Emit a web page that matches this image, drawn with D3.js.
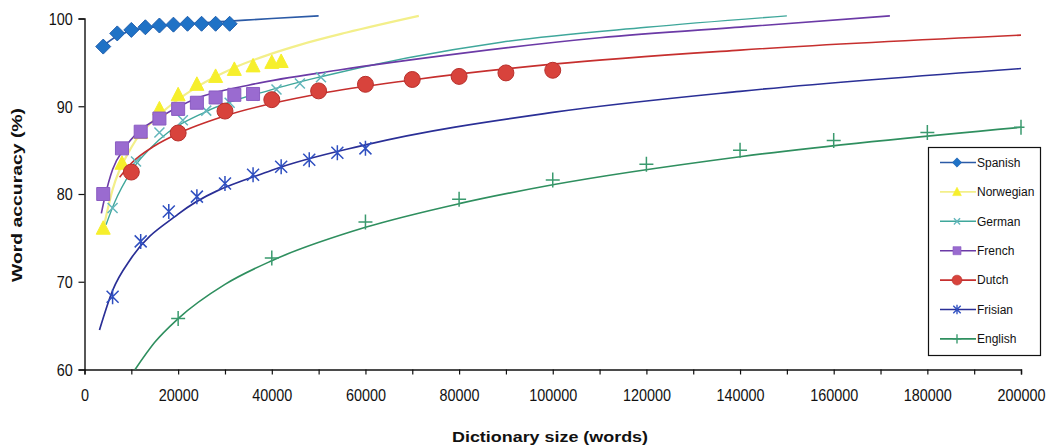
<!DOCTYPE html>
<html>
<head>
<meta charset="utf-8">
<script src="https://cdn.jsdelivr.net/npm/d3@7"></script>
<style>
  body { margin: 0; background: #fff; }
  svg { font-family: "Liberation Sans", Arial, sans-serif; }
</style>
</head>
<body>
<svg id="chart" width="1053" height="446"></svg>
<script>
// Values
const seriesNames = ['Spanish', 'Norwegian', 'German', 'French', 'Dutch', 'Frisian', 'English'];

const spanishSize = [4000, 7000, 10000, 13000, 16000, 19000, 22000, 25000, 28000, 31000];
const spanishAcc  = [96.8, 98.3, 98.7, 99.0, 99.2, 99.3, 99.4, 99.4, 99.4, 99.4];
const spanishTrend = [[4000, 96.9], [7000, 98.0], [10000, 98.6], [16000, 99.1], [22000, 99.4], [31000, 99.7], [40000, 100.0], [50000, 100.3]];

const norwegianSize = [4000, 8000, 12000, 16000, 20000, 24000, 28000, 32000, 36000, 40000, 42000];
const norwegianAcc  = [76.1, 83.5, 87.0, 89.7, 91.3, 92.5, 93.4, 94.2, 94.6, 95.0, 95.1];
const norwegianTrend = [[3800, 75.5], [6000, 80.5], [10000, 85.3], [16000, 89.0], [24000, 92.2], [32000, 94.4], [40000, 96.0], [46000, 97.0], [56000, 98.4], [71400, 100.3]];

const germanSize = [6000, 11000, 16000, 21000, 26000, 31000, 36000, 41000, 46000, 50500];
const germanAcc  = [78.4, 83.7, 87.0, 88.4, 89.5, 90.4, 91.2, 91.9, 92.6, 93.3];
const germanTrend = [[4600, 76.5], [6400, 79.0], [10000, 82.6], [16000, 86.2], [26000, 89.4], [40000, 91.9], [50000, 93.3], [89000, 97.3], [120000, 99.0], [150000, 100.3]];

const frenchSize = [4000, 8000, 12000, 16000, 20000, 24000, 28000, 32000, 36000];
const frenchAcc  = [80.0, 85.2, 87.1, 88.6, 89.7, 90.4, 91.0, 91.3, 91.4];
const frenchTrend = [[3600, 77.8], [4500, 80.0], [6000, 82.8], [8500, 85.2], [12000, 87.3], [16000, 88.7], [24000, 90.9], [35000, 92.4], [54000, 94.1], [80000, 96.0], [110000, 97.8], [142000, 99.1], [172000, 100.3]];

const dutchSize = [10000, 20000, 30000, 40000, 50000, 60000, 70000, 80000, 90000, 100000];
const dutchAcc  = [82.5, 86.95, 89.45, 90.75, 91.75, 92.5, 93.05, 93.4, 93.8, 94.1];
const dutchTrend = [[7500, 81.9], [10000, 83.5], [15000, 85.5], [20000, 86.9], [30000, 88.9], [50000, 91.4], [70000, 93.0], [100000, 94.8], [140000, 96.4], [200000, 98.1]];

const frisianSize = [6000, 12000, 18000, 24000, 30000, 36000, 42000, 48000, 54000, 60000];
const frisianAcc  = [68.3, 74.6, 78.0, 79.7, 81.2, 82.2, 83.1, 83.9, 84.7, 85.2];
const frisianTrend = [[3200, 64.5], [6000, 69.0], [10000, 72.7], [20000, 77.7], [40000, 82.7], [60000, 85.6], [100000, 89.3], [140000, 91.7], [200000, 94.3]];

const englishSize = [20000, 40000, 60000, 80000, 100000, 120000, 140000, 160000, 180000, 200000];
const englishAcc  = [65.8, 72.7, 76.8, 79.4, 81.6, 83.4, 85.0, 86.1, 87.0, 87.6];
const englishTrend = [[10800, 60.0], [15000, 63.1], [20000, 65.8], [30000, 69.7], [40000, 72.4], [60000, 76.2], [80000, 78.9], [100000, 81.05], [140000, 84.25], [200000, 87.6]];

const xTicks = d3.range(0, 200001, 10000);
const xLabels = d3.range(0, 200001, 20000);
const yTicks = [60, 70, 80, 90, 100];

// look of each series
const style = {
  Spanish:   { marker: 'diamond',  fill: '#1f72c6', stroke: '#1f5fae', line: '#2b5aa6', lw: 1.6 },
  Norwegian: { marker: 'triangle', fill: '#f6ef2c', stroke: '#f6ef2c', line: '#f3ef8a', lw: 2.2 },
  German:    { marker: 'cross',    fill: 'none',    stroke: '#63b6bb', line: '#3fa79b', lw: 1.4 },
  French:    { marker: 'square',   fill: '#9a6bd0', stroke: '#8a5cc2', line: '#6b3aa6', lw: 1.6 },
  Dutch:     { marker: 'circle',   fill: '#d8433c', stroke: '#b8302c', line: '#c62f2e', lw: 1.6 },
  Frisian:   { marker: 'star',     fill: 'none',    stroke: '#2f4fc0', line: '#2a2f96', lw: 1.7 },
  English:   { marker: 'plus',     fill: 'none',    stroke: '#3a9a6e', line: '#2f8f5f', lw: 1.6 }
};

const series = [
  { name: 'Spanish', size: spanishSize, acc: spanishAcc, trend: spanishTrend },
  { name: 'Norwegian', size: norwegianSize, acc: norwegianAcc, trend: norwegianTrend },
  { name: 'German', size: germanSize, acc: germanAcc, trend: germanTrend },
  { name: 'French', size: frenchSize, acc: frenchAcc, trend: frenchTrend },
  { name: 'Dutch', size: dutchSize, acc: dutchAcc, trend: dutchTrend },
  { name: 'Frisian', size: frisianSize, acc: frisianAcc, trend: frisianTrend },
  { name: 'English', size: englishSize, acc: englishAcc, trend: englishTrend }
];

const svg = d3.select('#chart');
const x = d3.scaleLinear().domain([0, 200000]).range([84.5, 1021]);
const y = d3.scaleLinear().domain([60, 100]).range([369.5, 18.5]);

svg.append('defs').append('clipPath').attr('id', 'plot')
  .append('rect').attr('x', 84.5).attr('y', 14).attr('width', 940).attr('height', 356);

// axes
const gx = svg.append('g').attr('transform', 'translate(0,369.5)')
  .call(d3.axisBottom(x).tickValues(xTicks).tickSize(5).tickPadding(15)
    .tickFormat(d => xLabels.includes(d) ? d : ''));
const gy = svg.append('g').attr('transform', 'translate(84.5,0)')
  .call(d3.axisLeft(y).tickValues(yTicks).tickSize(6).tickPadding(7));
[gx, gy].forEach(g => {
  g.select('.domain').attr('stroke', '#111').attr('stroke-width', 1.4);
  g.selectAll('.tick line').attr('stroke', '#111').attr('stroke-width', 1.2);
  g.selectAll('.tick text').attr('font-size', 16).attr('fill', '#111')
    .attr('font-family', '"Liberation Sans", Arial, sans-serif');
});
gx.selectAll('.tick text').attr('transform', 'scale(0.9,1)');
gy.selectAll('.tick text').attr('transform', 'scale(0.9,1)').attr('dy', '0.36em');

svg.append('text').attr('x', 550).attr('y', 442).attr('text-anchor', 'middle')
  .attr('font-size', 15).attr('font-weight', 'bold').attr('fill', '#111')
  .attr('textLength', 196).attr('lengthAdjust', 'spacingAndGlyphs')
  .text('Dictionary size (words)');
svg.append('text').attr('transform', 'translate(22,195) rotate(-90)').attr('text-anchor', 'middle')
  .attr('font-size', 15).attr('font-weight', 'bold').attr('fill', '#111')
  .attr('textLength', 174).attr('lengthAdjust', 'spacingAndGlyphs')
  .text('Word accuracy (%)');

// marker shapes
function markerPath(kind) {
  switch (kind) {
    case 'diamond': return 'M0,-7.5L7.5,0L0,7.5L-7.5,0Z';
    case 'triangle': return 'M0,-7.5L7,6L-7,6Z';
    case 'square': return 'M-6.5,-6.5H6.5V6.5H-6.5Z';
    case 'circle': return d3.symbol(d3.symbolCircle, 200)();
    case 'cross': return 'M-5,-5L5,5M-5,5L5,-5';
    case 'star': return 'M-6,-6L6,6M-6,6L6,-6M0,-7.5V7.5';
    case 'plus': return 'M-7,0H7M0,-7.5V7.5';
  }
}

const line = d3.line().x(d => x(d[0])).y(d => y(d[1])).curve(d3.curveMonotoneX);
const plot = svg.append('g').attr('clip-path', 'url(#plot)');

plot.selectAll('path.trend').data(series).join('path')
  .attr('class', 'trend')
  .attr('d', s => line(s.trend))
  .attr('fill', 'none')
  .attr('stroke', s => style[s.name].line)
  .attr('stroke-width', s => style[s.name].lw);

series.forEach(s => {
  const st = style[s.name];
  const pts = s.size.map((v, i) => [v, s.acc[i]]);
  plot.append('g').selectAll('path').data(pts).join('path')
    .attr('transform', d => `translate(${x(d[0])},${y(d[1])})`)
    .attr('d', markerPath(st.marker))
    .attr('fill', st.fill)
    .attr('stroke', st.stroke)
    .attr('stroke-width', st.fill === 'none' ? 1.5 : 1);
});

// legend
const lg = svg.append('g').attr('transform', 'translate(928,147)');
lg.append('rect').attr('x', 0.5).attr('y', 0.5).attr('width', 112).attr('height', 208)
  .attr('fill', '#fff').attr('stroke', '#111').attr('stroke-width', 1.2);
const row = lg.selectAll('g.row').data(series).join('g')
  .attr('class', 'row')
  .attr('transform', (s, i) => `translate(0,${15.5 + i * 29.4})`);
row.append('line').attr('x1', 12).attr('x2', 48).attr('y1', 0).attr('y2', 0)
  .attr('stroke', s => style[s.name].line).attr('stroke-width', 1.6);
row.append('path')
  .attr('transform', 'translate(29,0) scale(0.62)')
  .attr('d', s => markerPath(style[s.name].marker))
  .attr('fill', s => style[s.name].fill)
  .attr('stroke', s => style[s.name].stroke)
  .attr('stroke-width', s => style[s.name].fill === 'none' ? 2.2 : 1);
row.append('text').attr('x', 49).attr('dy', '0.35em')
  .attr('font-size', 12).attr('fill', '#111')
  .text(s => s.name);
</script>
</body>
</html>
